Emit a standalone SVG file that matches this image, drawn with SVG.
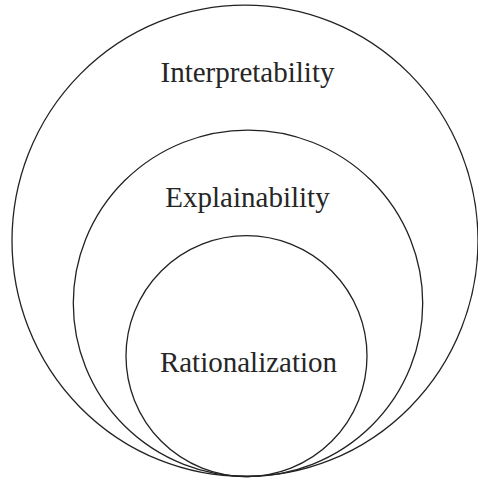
<svg xmlns="http://www.w3.org/2000/svg" width="478" height="481" viewBox="0 0 478 481">
<style>
.ring{fill:none;stroke:#222;stroke-width:1.3}
.lbl{font-family:"Liberation Serif","Times New Roman",serif;font-size:29px;fill:#262626;text-anchor:middle}
</style>
<rect width="478" height="481" fill="#fff"/>
<g id="interpretability">
<ellipse class="ring" cx="245" cy="240.8" rx="233" ry="235.7"/>
<text class="lbl" x="247.5" y="81.7">Interpretability</text>
</g>
<g id="explainability">
<ellipse class="ring" cx="248" cy="303.3" rx="174.7" ry="173.2"/>
<text class="lbl" x="247.5" y="206.7">Explainability</text>
</g>
<g id="rationalization">
<ellipse class="ring" cx="246.5" cy="356.1" rx="120.5" ry="120.4"/>
<text class="lbl" x="248.5" y="371.7">Rationalization</text>
</g>
<g id="connectors"></g>
</svg>
